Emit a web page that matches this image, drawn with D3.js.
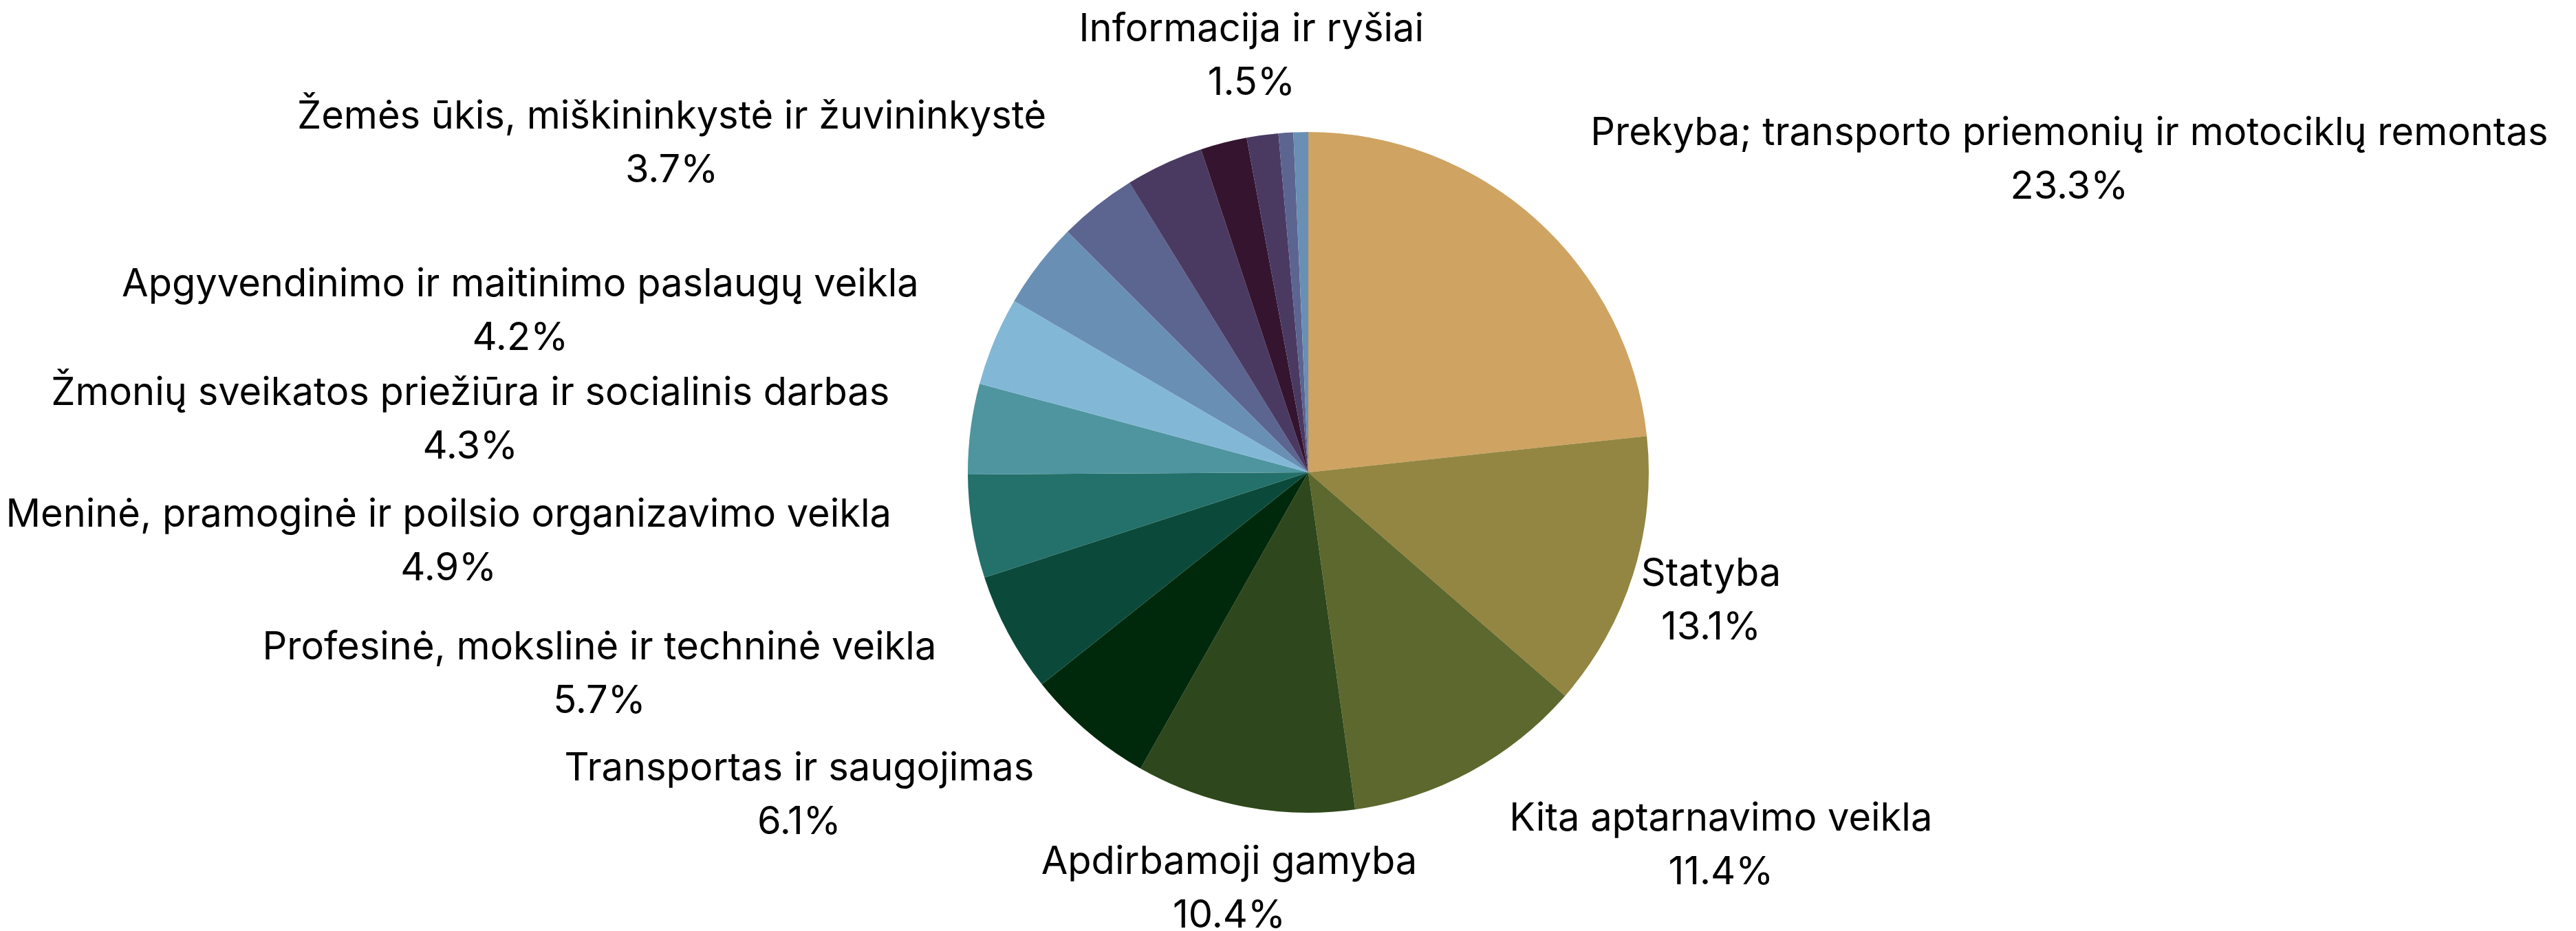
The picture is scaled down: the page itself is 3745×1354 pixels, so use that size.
<!DOCTYPE html>
<html>
<head>
<meta charset="utf-8">
<script src="https://cdn.jsdelivr.net/npm/d3@7"></script>
<style>
  html, body { margin: 0; padding: 0; background: #ffffff; }
  svg { display: block; }
  text { font-family: Inter, Roboto, "Noto Sans", sans-serif; fill: #000; }
</style>
</head>
<body>
<svg id="chart" width="3745" height="1354"></svg>
<script>
// ---- data ----
const categories = [
  "Prekyba; transporto priemonių ir motociklų remontas",
  "Statyba",
  "Kita aptarnavimo veikla",
  "Apdirbamoji gamyba",
  "Transportas ir saugojimas",
  "Profesinė, mokslinė ir techninė veikla",
  "Meninė, pramoginė ir poilsio organizavimo veikla",
  "Žmonių sveikatos priežiūra ir socialinis darbas",
  "Apgyvendinimo ir maitinimo paslaugų veikla",
  "Administracinė ir aptarnavimo veikla",
  "Žemės ūkis, miškininkystė ir žuvininkystė",
  "Nekilnojamojo turto operacijos",
  "Finansinė ir draudimo veikla",
  "Informacija ir ryšiai",
  "Švietimas",
  "Vandens tiekimas, nuotekų valymas, atliekų tvarkymas"
];
const values = [23.3, 13.1, 11.4, 10.4, 6.1, 5.7, 4.9, 4.3, 4.2, 4.1, 3.7, 3.7, 2.2, 1.5, 0.7, 0.7];
const colors = ["#cfa362", "#938642", "#5c682d", "#2e471c", "#00290c", "#0b4a3a", "#24706a",
                "#4f95a0", "#82b8d6", "#6a8fb5", "#5c6490", "#4a3a62", "#34142f", "#4a3a62",
                "#5c6490", "#6a8fb5"];

// ---- layout ----
const W = 3745, H = 1354;
const cx = 1902, cy = 687, R = 495;
const labelR = R * 1.24;
const fontSize = 56, capH = 40, lineGap = 78;

const svg = d3.select("#chart");
svg.append("rect").attr("width", W).attr("height", H).attr("fill", "#fff");

const rows = categories.map((c, i) => ({ name: c, value: values[i], color: colors[i] }));
const pie = d3.pie().sort(null).value(d => d.value).startAngle(0).endAngle(2 * Math.PI);
const arcs = pie(rows);
const arc = d3.arc().innerRadius(0).outerRadius(R);

const g = svg.append("g").attr("transform", `translate(${cx},${cy})`);
g.selectAll("path.slice").data(arcs).join("path")
  .attr("class", "slice")
  .attr("d", arc)
  .attr("fill", d => d.data.color);

// ---- labels ----
const lg = svg.append("g");
const placed = [];
function rectHitsCircle(x0, y0, x1, y1) {
  const px = Math.max(x0, Math.min(cx, x1));
  const py = Math.max(y0, Math.min(cy, y1));
  return Math.hypot(px - cx, py - cy) < R;
}
function overlaps(a, b) {
  return !(a.x1 <= b.x0 || b.x1 <= a.x0 || a.y1 <= b.y0 || b.y1 <= a.y0);
}
arcs.forEach(d => {
  const a = (d.startAngle + d.endAngle) / 2;
  const ax = cx + labelR * Math.sin(a);
  const ay = cy - labelR * Math.cos(a);
  const base1 = ay - (lineGap - capH) / 2;
  const t = lg.append("g");
  const t1 = t.append("text").attr("text-anchor", "middle").attr("font-size", fontSize)
    .attr("y", base1).text(d.data.name);
  const t2 = t.append("text").attr("text-anchor", "middle").attr("font-size", fontSize)
    .attr("y", base1 + lineGap).text(d3.format(".1f")(d.data.value) + "%");
  const bw = Math.max(t1.node().getComputedTextLength(), t2.node().getComputedTextLength());
  let x0 = ax - bw / 2;
  const capTop = base1 - capH, bottom = base1 + lineGap;
  if (rectHitsCircle(x0, capTop, x0 + bw, bottom)) {
    x0 = ax > cx ? ax : ax - bw;
  }
  const xc = x0 + bw / 2;
  t1.attr("x", xc); t2.attr("x", xc);
  const bb = t.node().getBBox();
  const box = { x0: bb.x, x1: bb.x + bb.width, y0: bb.y, y1: bb.y + bb.height };
  if (placed.some(p => overlaps(p, box))) { t.remove(); }
  else placed.push(box);
});
</script>
</body>
</html>
